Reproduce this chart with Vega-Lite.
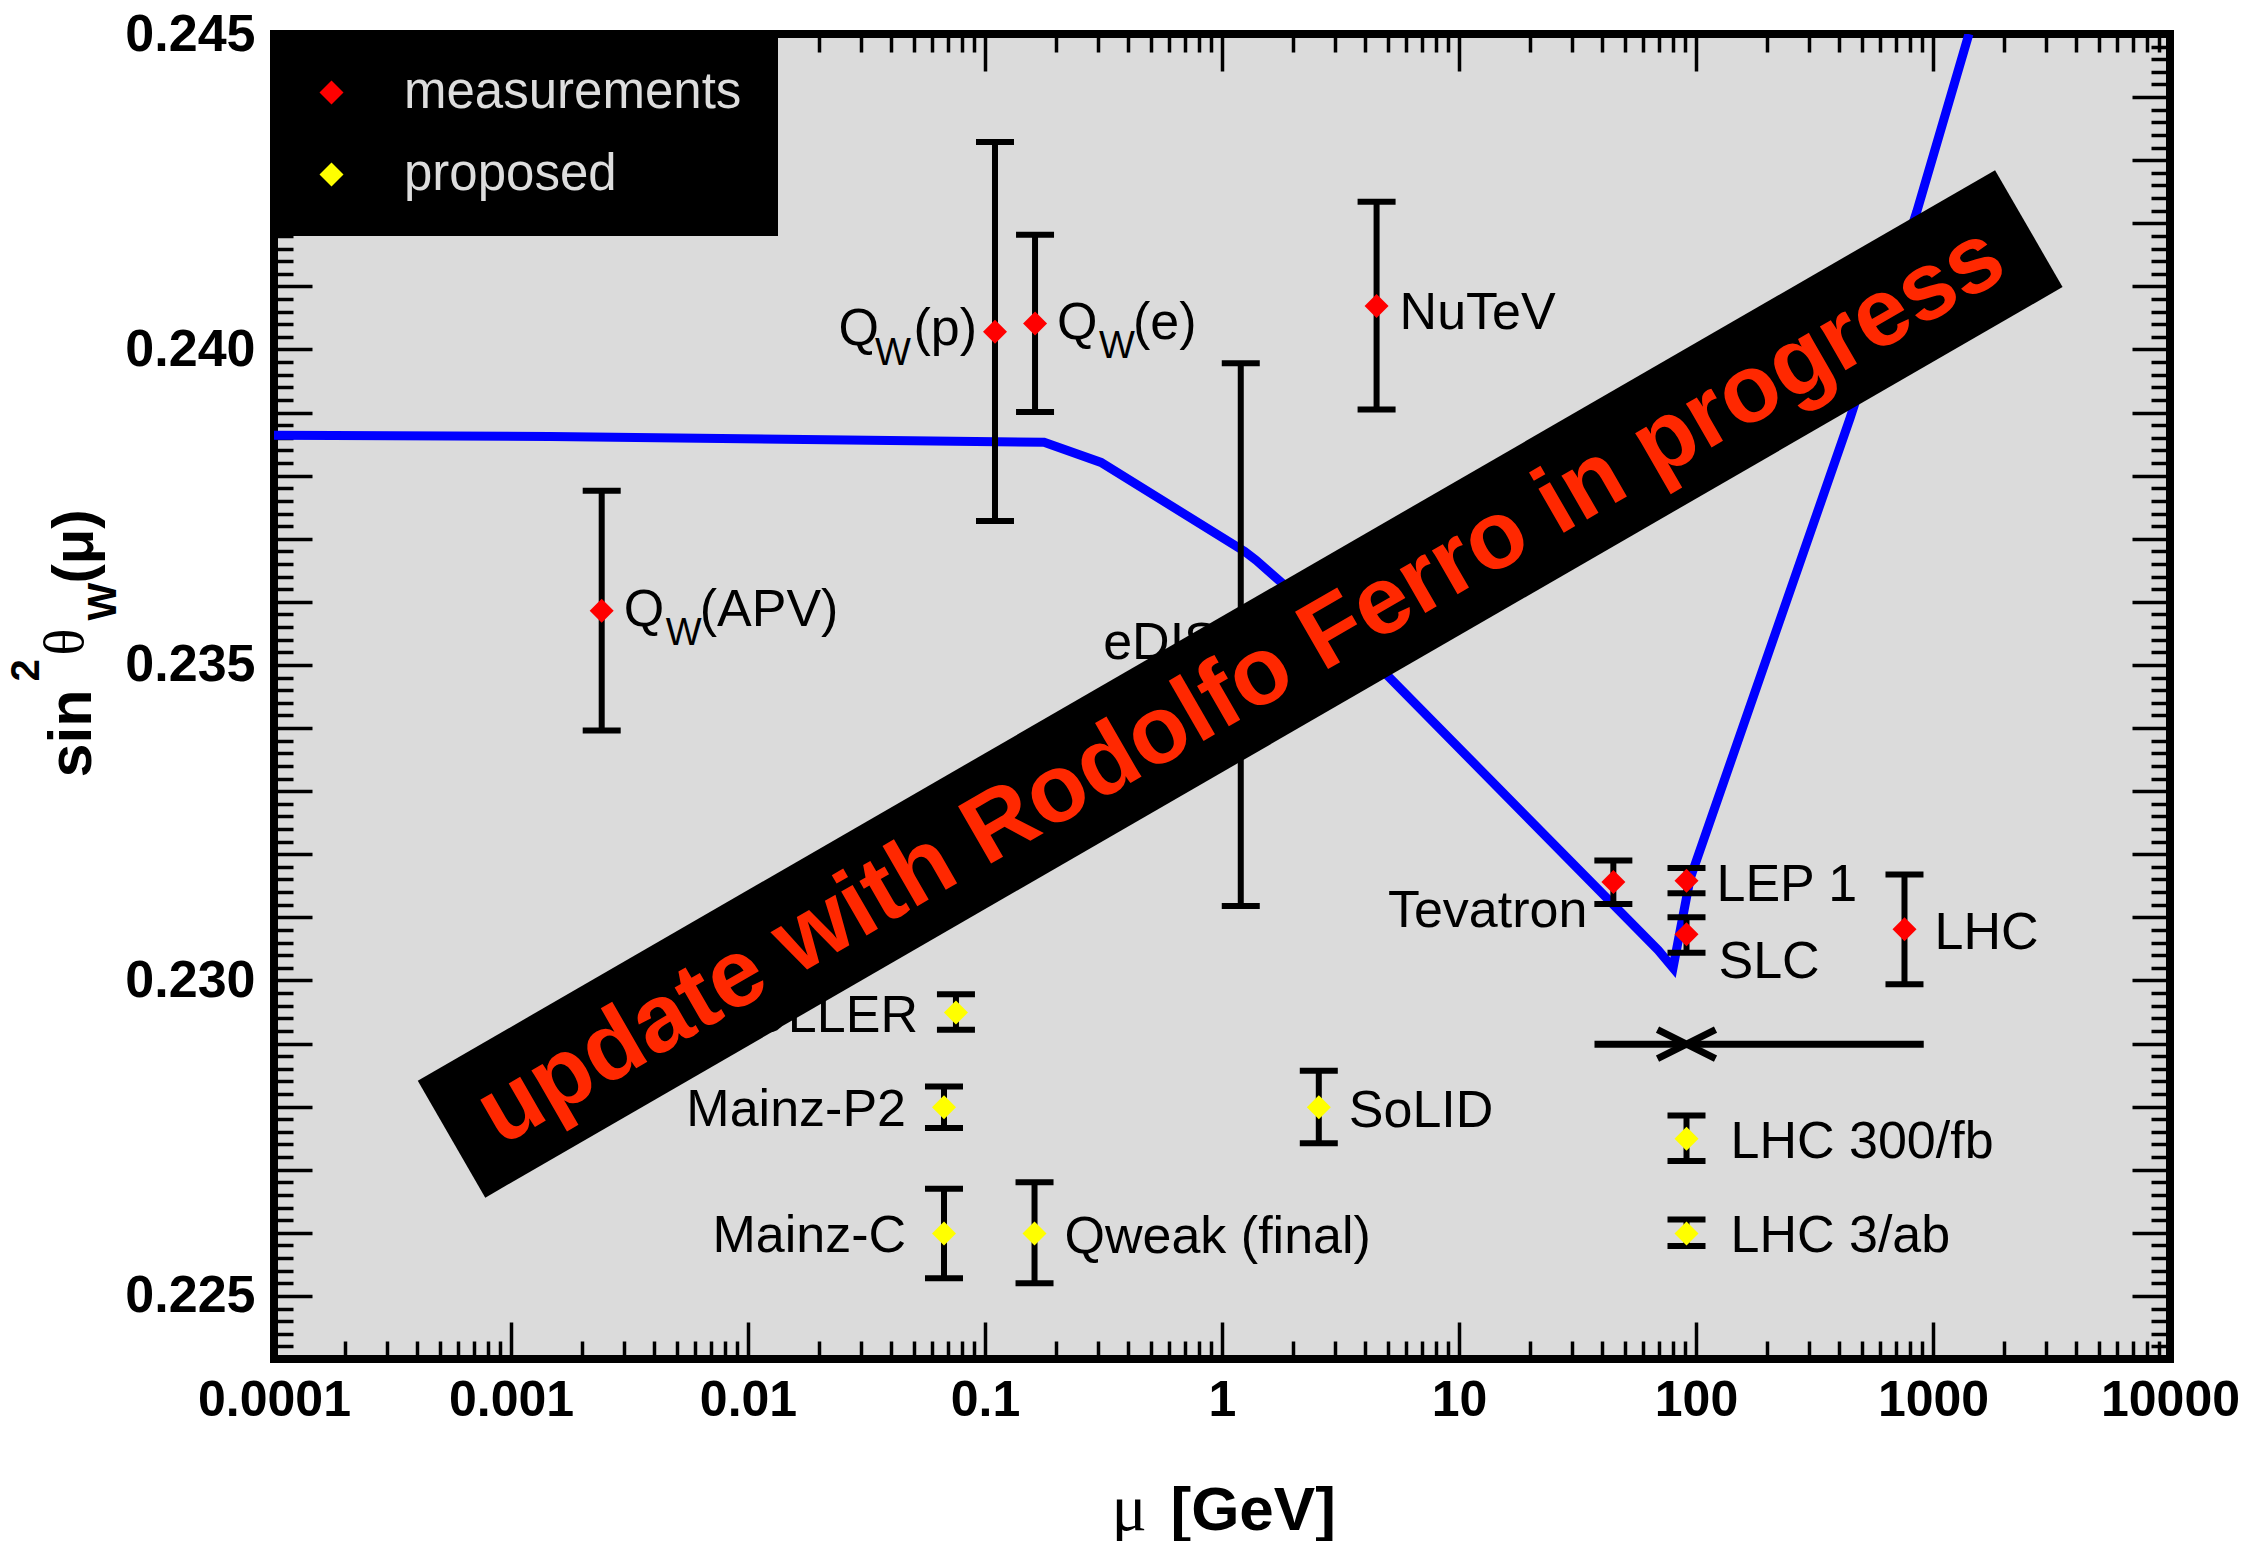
{
  "$schema": "https://vega.github.io/schema/vega-lite/v6.json",
  "width": 1896,
  "height": 1325,
  "autosize": {"type": "none"},
  "padding": {"left": 274, "top": 34, "right": 80, "bottom": 182},
  "background": "white",
  "config": {
    "view": {"fill": "#dbdbdb", "stroke": "black", "strokeWidth": 8},
    "font": "Liberation Sans",
    "axis": {"grid": false, "domain": false, "tickColor": "black", "tickWidth": 3.5, "labelColor": "black", "titleColor": "black", "labelFlush": false, "labelOverlap": false, "labelBound": false, "labelFont": "Liberation Sans", "titleFont": "Liberation Sans"}
  },
  "datasets": {
    "curve": [
      {"mu": 0.0001, "s2w": 0.23864},
      {"mu": 0.00146, "s2w": 0.23862},
      {"mu": 0.1775, "s2w": 0.23853},
      {"mu": 0.3087, "s2w": 0.23821},
      {"mu": 1.246, "s2w": 0.2368},
      {"mu": 1.392, "s2w": 0.23666},
      {"mu": 4.909, "s2w": 0.23486},
      {"mu": 69.2, "s2w": 0.23048},
      {"mu": 80, "s2w": 0.2302},
      {"mu": 94.4, "s2w": 0.23161},
      {"mu": 446.6, "s2w": 0.23891},
      {"mu": 853.5, "s2w": 0.24218},
      {"mu": 1417.6, "s2w": 0.245}
    ],
    "points": [
      {"exp": "Q_W(APV)", "mu": 0.002414, "s2w": 0.23586, "lo": 0.23396, "hi": 0.23776, "type": "measurements"},
      {"exp": "Q_W(p)", "mu": 0.1102, "s2w": 0.24028, "lo": 0.23728, "hi": 0.24329, "type": "measurements"},
      {"exp": "Q_W(e)", "mu": 0.1626, "s2w": 0.24041, "lo": 0.23901, "hi": 0.24182, "type": "measurements"},
      {"exp": "eDIS", "mu": 1.2, "s2w": 0.23548, "lo": 0.23118, "hi": 0.23978, "type": "measurements"},
      {"exp": "NuTeV", "mu": 4.49, "s2w": 0.24069, "lo": 0.23905, "hi": 0.24234, "type": "measurements"},
      {"exp": "Tevatron", "mu": 44.8, "s2w": 0.23156, "lo": 0.23121, "hi": 0.2319, "type": "measurements"},
      {"exp": "LEP 1", "mu": 91.19, "s2w": 0.23158, "lo": 0.23138, "hi": 0.23178, "type": "measurements"},
      {"exp": "SLC", "mu": 91.19, "s2w": 0.23073, "lo": 0.23044, "hi": 0.231, "type": "measurements"},
      {"exp": "LHC", "mu": 758, "s2w": 0.23081, "lo": 0.22994, "hi": 0.23168, "type": "measurements"},
      {"exp": "MOLLER", "mu": 0.07541, "s2w": 0.22949, "lo": 0.22922, "hi": 0.22978, "type": "proposed"},
      {"exp": "Mainz-P2", "mu": 0.06714, "s2w": 0.22799, "lo": 0.22766, "hi": 0.22832, "type": "proposed"},
      {"exp": "SoLID", "mu": 2.561, "s2w": 0.22799, "lo": 0.22742, "hi": 0.22857, "type": "proposed"},
      {"exp": "Mainz-C", "mu": 0.06714, "s2w": 0.22599, "lo": 0.22528, "hi": 0.2267, "type": "proposed"},
      {"exp": "Qweak (final)", "mu": 0.1618, "s2w": 0.22599, "lo": 0.2252, "hi": 0.2268, "type": "proposed"},
      {"exp": "LHC 300/fb", "mu": 91.19, "s2w": 0.22749, "lo": 0.22714, "hi": 0.22786, "type": "proposed"},
      {"exp": "LHC 3/ab", "mu": 91.19, "s2w": 0.22599, "lo": 0.22579, "hi": 0.22621, "type": "proposed"}
    ],
    "labels": [
      {"text": "NuTeV", "mu": 4.49, "s2w": 0.24069, "grp": "R1"},
      {"text": "SoLID", "mu": 2.561, "s2w": 0.22799, "grp": "R2"},
      {"text": "Qweak (final)", "mu": 0.1618, "s2w": 0.22599, "grp": "R2"},
      {"text": "LEP 1", "mu": 91.19, "s2w": 0.23158, "grp": "R2"},
      {"text": "LHC", "mu": 758, "s2w": 0.23081, "grp": "R2"},
      {"text": "SLC", "mu": 91.19, "s2w": 0.23073, "grp": "R3"},
      {"text": "LHC 300/fb", "mu": 91.19, "s2w": 0.22749, "grp": "R4"},
      {"text": "LHC 3/ab", "mu": 91.19, "s2w": 0.22599, "grp": "R4"},
      {"text": "MOLLER", "mu": 0.07541, "s2w": 0.22949, "grp": "L1"},
      {"text": "Mainz-P2", "mu": 0.06714, "s2w": 0.22799, "grp": "L1"},
      {"text": "Mainz-C", "mu": 0.06714, "s2w": 0.22599, "grp": "L1"},
      {"text": "Tevatron", "mu": 44.8, "s2w": 0.23156, "grp": "L2"},
      {"text": "eDIS", "mu": 1.2, "s2w": 0.23548, "grp": "L3"}
    ],
    "qlabels": [
      {"text": "(APV)", "mu": 0.002414, "s2w": 0.23586, "grp": "QR"},
      {"text": "(e)", "mu": 0.1626, "s2w": 0.24041, "grp": "QR"},
      {"text": "(p)", "mu": 0.1102, "s2w": 0.24028, "grp": "QL"}
    ],
    "zline": [{"mu": 37.3, "mu2": 914, "s2w": 0.22899}],
    "zmark": [{"mu": 91.19, "s2w": 0.22899}],
    "banner": [{"mu": 0.0005611, "s2w": 0.227484, "mu2": 2536.6, "s2w2": 0.241916}],
    "bannertext": [{"text": "update with Rodolfo Ferro in progress", "mu": 1.193, "s2w": 0.2347}]
  },
  "resolve": {"axis": {"x": "independent", "y": "independent"}},
  "layer": [
    {
      "data": {"name": "curve"},
      "mark": {"type": "line", "color": "#0000ff", "strokeWidth": 9, "clip": true, "strokeJoin": "miter"},
      "encoding": {
        "x": {"field": "mu", "type": "quantitative", "scale": {"type": "log", "domain": [0.0001, 10000]},
          "axis": {"orient": "bottom", "values": [0.0001, 0.001, 0.01, 0.1, 1, 10, 100, 1000, 10000], "format": "~g", "ticks": false, "tickSize": 0, "labelFontSize": 50, "labelFontWeight": "bold", "labelPadding": 16, "title": "μ", "titleFont": "Liberation Serif", "titleFontSize": 66, "titleFontWeight": "normal", "titleX": 837, "titleY": 170, "titleAlign": "left", "titleBaseline": "alphabetic", "titleAngle": 0}},
        "y": {"field": "s2w", "type": "quantitative", "scale": {"domain": [0.224, 0.245], "zero": false, "nice": false},
          "axis": {"orient": "left", "values": [0.225, 0.23, 0.235, 0.24, 0.245], "format": ".3f", "ticks": false, "tickSize": 0, "labelFontSize": 52, "labelFontWeight": "bold", "labelPadding": 19, "title": "sin", "titleFontSize": 61, "titleFontWeight": "bold", "titleX": -184, "titleY": 743, "titleAngle": 270, "titleAlign": "left", "titleBaseline": "alphabetic"}}
      }
    },
    {
      "data": {"name": "points"},
      "mark": {"type": "rule", "color": "black", "strokeWidth": 6},
      "encoding": {
        "x": {"field": "mu", "type": "quantitative", "scale": {"type": "log", "domain": [0.0001, 10000]},
          "axis": {"orient": "bottom", "values": [0.0001, 0.001, 0.01, 0.1, 1, 10, 100, 1000, 10000], "labels": false, "tickSize": -37, "title": "[GeV]", "titleFontSize": 62, "titleFontWeight": "bold", "titleX": 896, "titleY": 170, "titleAlign": "left", "titleBaseline": "alphabetic", "titleAngle": 0}},
        "y": {"field": "lo", "type": "quantitative", "scale": {"domain": [0.224, 0.245], "zero": false, "nice": false},
          "axis": {"orient": "left", "values": [0.224, 0.225, 0.226, 0.227, 0.228, 0.229, 0.23, 0.231, 0.232, 0.233, 0.234, 0.235, 0.236, 0.237, 0.238, 0.239, 0.24, 0.241, 0.242, 0.243, 0.244, 0.245], "labels": false, "tickSize": -38, "title": "2", "titleFontSize": 40, "titleFontWeight": "bold", "titleX": -236, "titleY": 647, "titleAngle": 270, "titleAlign": "left", "titleBaseline": "alphabetic"}},
        "y2": {"field": "hi"}
      }
    },
    {
      "data": {"name": "points"},
      "mark": {"type": "point", "shape": "M-1,0L1,0", "size": 1444, "filled": false, "color": "black", "strokeWidth": 6, "opacity": 1},
      "encoding": {
        "x": {"field": "mu", "type": "quantitative", "scale": {"type": "log", "domain": [0.0001, 10000]},
          "axis": {"orient": "bottom", "values": [0.0002, 0.0003, 0.0004, 0.0005, 0.0006, 0.0007, 0.0008, 0.0009, 0.002, 0.003, 0.004, 0.005, 0.006, 0.007, 0.008, 0.009, 0.02, 0.03, 0.04, 0.05, 0.06, 0.07, 0.08, 0.09, 0.2, 0.3, 0.4, 0.5, 0.6, 0.7, 0.8, 0.9, 2, 3, 4, 5, 6, 7, 8, 9, 20, 30, 40, 50, 60, 70, 80, 90, 200, 300, 400, 500, 600, 700, 800, 900, 2000, 3000, 4000, 5000, 6000, 7000, 8000, 9000], "labels": false, "tickSize": -18, "title": null}},
        "y": {"field": "hi", "type": "quantitative", "scale": {"domain": [0.224, 0.245], "zero": false, "nice": false},
          "axis": {"orient": "left", "values": [0.2242, 0.2244, 0.2246, 0.2248, 0.2252, 0.2254, 0.2256, 0.2258, 0.2262, 0.2264, 0.2266, 0.2268, 0.2272, 0.2274, 0.2276, 0.2278, 0.2282, 0.2284, 0.2286, 0.2288, 0.2292, 0.2294, 0.2296, 0.2298, 0.2302, 0.2304, 0.2306, 0.2308, 0.2312, 0.2314, 0.2316, 0.2318, 0.2322, 0.2324, 0.2326, 0.2328, 0.2332, 0.2334, 0.2336, 0.2338, 0.2342, 0.2344, 0.2346, 0.2348, 0.2352, 0.2354, 0.2356, 0.2358, 0.2362, 0.2364, 0.2366, 0.2368, 0.2372, 0.2374, 0.2376, 0.2378, 0.2382, 0.2384, 0.2386, 0.2388, 0.2392, 0.2394, 0.2396, 0.2398, 0.2402, 0.2404, 0.2406, 0.2408, 0.2412, 0.2414, 0.2416, 0.2418, 0.2422, 0.2424, 0.2426, 0.2428, 0.2432, 0.2434, 0.2436, 0.2438, 0.2442, 0.2444, 0.2446, 0.2448], "labels": false, "tickSize": -19, "title": "θ", "titleFont": "Liberation Serif", "titleFontSize": 56, "titleFontWeight": "normal", "titleX": -192, "titleY": 621, "titleAngle": 270, "titleAlign": "left", "titleBaseline": "alphabetic"}}
      }
    },
    {
      "data": {"name": "points"},
      "mark": {"type": "point", "shape": "M-1,0L1,0", "size": 1444, "filled": false, "color": "black", "strokeWidth": 6, "opacity": 1},
      "encoding": {
        "x": {"field": "mu", "type": "quantitative", "scale": {"type": "log", "domain": [0.0001, 10000]},
          "axis": {"orient": "top", "values": [0.0001, 0.001, 0.01, 0.1, 1, 10, 100, 1000, 10000], "labels": false, "tickSize": -37, "title": null}},
        "y": {"field": "lo", "type": "quantitative", "scale": {"domain": [0.224, 0.245], "zero": false, "nice": false},
          "axis": {"orient": "left", "ticks": false, "tickSize": 0, "labels": false, "title": "W", "titleFontSize": 40, "titleFontWeight": "bold", "titleX": -159, "titleY": 586, "titleAngle": 270, "titleAlign": "left", "titleBaseline": "alphabetic"}}
      }
    },
    {
      "data": {"name": "points"},
      "mark": {"type": "point", "shape": "diamond", "size": 576, "filled": true, "strokeWidth": 0, "opacity": 1},
      "encoding": {
        "x": {"field": "mu", "type": "quantitative", "scale": {"type": "log", "domain": [0.0001, 10000]},
          "axis": {"orient": "top", "values": [0.0002, 0.0003, 0.0004, 0.0005, 0.0006, 0.0007, 0.0008, 0.0009, 0.002, 0.003, 0.004, 0.005, 0.006, 0.007, 0.008, 0.009, 0.02, 0.03, 0.04, 0.05, 0.06, 0.07, 0.08, 0.09, 0.2, 0.3, 0.4, 0.5, 0.6, 0.7, 0.8, 0.9, 2, 3, 4, 5, 6, 7, 8, 9, 20, 30, 40, 50, 60, 70, 80, 90, 200, 300, 400, 500, 600, 700, 800, 900, 2000, 3000, 4000, 5000, 6000, 7000, 8000, 9000], "labels": false, "tickSize": -18, "title": null}},
        "y": {"field": "s2w", "type": "quantitative", "scale": {"domain": [0.224, 0.245], "zero": false, "nice": false},
          "axis": {"orient": "left", "ticks": false, "tickSize": 0, "labels": false, "title": "(μ)", "titleFontSize": 58, "titleFontWeight": "bold", "titleX": -182, "titleY": 549, "titleAngle": 270, "titleAlign": "left", "titleBaseline": "alphabetic"}},
        "color": {"field": "type", "type": "nominal", "scale": {"domain": ["measurements", "proposed"], "range": ["#ff0000", "#ffff00"]},
          "legend": {"title": null, "orient": "none", "legendX": -4, "legendY": -3, "fillColor": "black", "padding": 36, "symbolType": "diamond", "symbolSize": 576, "symbolOffset": 0, "symbolStrokeWidth": 0, "labelFontSize": 51, "labelFont": "Liberation Sans", "labelColor": "#dddddd", "labelOffset": 47, "rowPadding": 30, "labelLimit": 1000}}
      }
    },
    {
      "data": {"name": "zline"},
      "mark": {"type": "rule", "color": "black", "strokeWidth": 7},
      "encoding": {
        "x": {"field": "mu", "type": "quantitative", "scale": {"type": "log", "domain": [0.0001, 10000]}, "axis": null},
        "x2": {"field": "mu2"},
        "y": {"field": "s2w", "type": "quantitative", "scale": {"domain": [0.224, 0.245], "zero": false, "nice": false},
          "axis": {"orient": "right", "values": [0.224, 0.225, 0.226, 0.227, 0.228, 0.229, 0.23, 0.231, 0.232, 0.233, 0.234, 0.235, 0.236, 0.237, 0.238, 0.239, 0.24, 0.241, 0.242, 0.243, 0.244, 0.245], "labels": false, "tickSize": -38, "title": null}}
      }
    },
    {
      "data": {"name": "zmark"},
      "mark": {"type": "point", "shape": "M-1,-0.5L1,0.5M-1,0.5L1,-0.5", "size": 3364, "filled": false, "color": "black", "strokeWidth": 7, "opacity": 1},
      "encoding": {
        "x": {"field": "mu", "type": "quantitative", "scale": {"type": "log", "domain": [0.0001, 10000]}, "axis": null},
        "y": {"field": "s2w", "type": "quantitative", "scale": {"domain": [0.224, 0.245], "zero": false, "nice": false},
          "axis": {"orient": "right", "values": [0.2242, 0.2244, 0.2246, 0.2248, 0.2252, 0.2254, 0.2256, 0.2258, 0.2262, 0.2264, 0.2266, 0.2268, 0.2272, 0.2274, 0.2276, 0.2278, 0.2282, 0.2284, 0.2286, 0.2288, 0.2292, 0.2294, 0.2296, 0.2298, 0.2302, 0.2304, 0.2306, 0.2308, 0.2312, 0.2314, 0.2316, 0.2318, 0.2322, 0.2324, 0.2326, 0.2328, 0.2332, 0.2334, 0.2336, 0.2338, 0.2342, 0.2344, 0.2346, 0.2348, 0.2352, 0.2354, 0.2356, 0.2358, 0.2362, 0.2364, 0.2366, 0.2368, 0.2372, 0.2374, 0.2376, 0.2378, 0.2382, 0.2384, 0.2386, 0.2388, 0.2392, 0.2394, 0.2396, 0.2398, 0.2402, 0.2404, 0.2406, 0.2408, 0.2412, 0.2414, 0.2416, 0.2418, 0.2422, 0.2424, 0.2426, 0.2428, 0.2432, 0.2434, 0.2436, 0.2438, 0.2442, 0.2444, 0.2446, 0.2448], "labels": false, "tickSize": -19, "title": null}}
      }
    },
    {
      "data": {"name": "labels"},
      "transform": [{"filter": "datum.grp === 'R1'"}],
      "mark": {"type": "text", "font": "Liberation Sans", "fontSize": 52, "color": "black", "align": "left", "baseline": "middle", "dx": 23, "dy": 7},
      "encoding": {
        "x": {"field": "mu", "type": "quantitative", "scale": {"type": "log", "domain": [0.0001, 10000]}, "axis": null},
        "y": {"field": "s2w", "type": "quantitative", "scale": {"domain": [0.224, 0.245], "zero": false, "nice": false}, "axis": null},
        "text": {"field": "text"}
      }
    },
    {
      "data": {"name": "labels"},
      "transform": [{"filter": "datum.grp === 'R2'"}],
      "mark": {"type": "text", "font": "Liberation Sans", "fontSize": 52, "color": "black", "align": "left", "baseline": "middle", "dx": 30, "dy": 4},
      "encoding": {
        "x": {"field": "mu", "type": "quantitative", "scale": {"type": "log", "domain": [0.0001, 10000]}, "axis": null},
        "y": {"field": "s2w", "type": "quantitative", "scale": {"domain": [0.224, 0.245], "zero": false, "nice": false}, "axis": null},
        "text": {"field": "text"}
      }
    },
    {
      "data": {"name": "labels"},
      "transform": [{"filter": "datum.grp === 'R3'"}],
      "mark": {"type": "text", "font": "Liberation Sans", "fontSize": 52, "color": "black", "align": "left", "baseline": "middle", "dx": 32, "dy": 28},
      "encoding": {
        "x": {"field": "mu", "type": "quantitative", "scale": {"type": "log", "domain": [0.0001, 10000]}, "axis": null},
        "y": {"field": "s2w", "type": "quantitative", "scale": {"domain": [0.224, 0.245], "zero": false, "nice": false}, "axis": null},
        "text": {"field": "text"}
      }
    },
    {
      "data": {"name": "labels"},
      "transform": [{"filter": "datum.grp === 'R4'"}],
      "mark": {"type": "text", "font": "Liberation Sans", "fontSize": 52, "color": "black", "align": "left", "baseline": "middle", "dx": 44, "dy": 3},
      "encoding": {
        "x": {"field": "mu", "type": "quantitative", "scale": {"type": "log", "domain": [0.0001, 10000]}, "axis": null},
        "y": {"field": "s2w", "type": "quantitative", "scale": {"domain": [0.224, 0.245], "zero": false, "nice": false}, "axis": null},
        "text": {"field": "text"}
      }
    },
    {
      "data": {"name": "labels"},
      "transform": [{"filter": "datum.grp === 'L1'"}],
      "mark": {"type": "text", "font": "Liberation Sans", "fontSize": 52, "color": "black", "align": "right", "baseline": "middle", "dx": -38, "dy": 3},
      "encoding": {
        "x": {"field": "mu", "type": "quantitative", "scale": {"type": "log", "domain": [0.0001, 10000]}, "axis": null},
        "y": {"field": "s2w", "type": "quantitative", "scale": {"domain": [0.224, 0.245], "zero": false, "nice": false}, "axis": null},
        "text": {"field": "text"}
      }
    },
    {
      "data": {"name": "labels"},
      "transform": [{"filter": "datum.grp === 'L2'"}],
      "mark": {"type": "text", "font": "Liberation Sans", "fontSize": 52, "color": "black", "align": "right", "baseline": "middle", "dx": -26, "dy": 29},
      "encoding": {
        "x": {"field": "mu", "type": "quantitative", "scale": {"type": "log", "domain": [0.0001, 10000]}, "axis": null},
        "y": {"field": "s2w", "type": "quantitative", "scale": {"domain": [0.224, 0.245], "zero": false, "nice": false}, "axis": null},
        "text": {"field": "text"}
      }
    },
    {
      "data": {"name": "labels"},
      "transform": [{"filter": "datum.grp === 'L3'"}],
      "mark": {"type": "text", "font": "Liberation Sans", "fontSize": 52, "color": "black", "align": "right", "baseline": "middle", "dx": -22, "dy": 8},
      "encoding": {
        "x": {"field": "mu", "type": "quantitative", "scale": {"type": "log", "domain": [0.0001, 10000]}, "axis": null},
        "y": {"field": "s2w", "type": "quantitative", "scale": {"domain": [0.224, 0.245], "zero": false, "nice": false}, "axis": null},
        "text": {"field": "text"}
      }
    },
    {
      "data": {"name": "qlabels"},
      "transform": [{"filter": "datum.grp === 'QR'"}],
      "mark": {"type": "text", "font": "Liberation Sans", "fontSize": 52, "color": "black", "align": "left", "baseline": "middle", "dx": 22, "dy": -1},
      "encoding": {
        "x": {"field": "mu", "type": "quantitative", "scale": {"type": "log", "domain": [0.0001, 10000]}, "axis": null},
        "y": {"field": "s2w", "type": "quantitative", "scale": {"domain": [0.224, 0.245], "zero": false, "nice": false}, "axis": null},
        "text": {"value": "Q"}
      }
    },
    {
      "data": {"name": "qlabels"},
      "transform": [{"filter": "datum.grp === 'QR'"}],
      "mark": {"type": "text", "font": "Liberation Sans", "fontSize": 38, "color": "black", "align": "left", "baseline": "middle", "dx": 64, "dy": 23},
      "encoding": {
        "x": {"field": "mu", "type": "quantitative", "scale": {"type": "log", "domain": [0.0001, 10000]}, "axis": null},
        "y": {"field": "s2w", "type": "quantitative", "scale": {"domain": [0.224, 0.245], "zero": false, "nice": false}, "axis": null},
        "text": {"value": "W"}
      }
    },
    {
      "data": {"name": "qlabels"},
      "transform": [{"filter": "datum.grp === 'QR'"}],
      "mark": {"type": "text", "font": "Liberation Sans", "fontSize": 52, "color": "black", "align": "left", "baseline": "middle", "dx": 98, "dy": -1},
      "encoding": {
        "x": {"field": "mu", "type": "quantitative", "scale": {"type": "log", "domain": [0.0001, 10000]}, "axis": null},
        "y": {"field": "s2w", "type": "quantitative", "scale": {"domain": [0.224, 0.245], "zero": false, "nice": false}, "axis": null},
        "text": {"field": "text"}
      }
    },
    {
      "data": {"name": "qlabels"},
      "transform": [{"filter": "datum.grp === 'QL'"}],
      "mark": {"type": "text", "font": "Liberation Sans", "fontSize": 52, "color": "black", "align": "right", "baseline": "middle", "dx": -116, "dy": -3},
      "encoding": {
        "x": {"field": "mu", "type": "quantitative", "scale": {"type": "log", "domain": [0.0001, 10000]}, "axis": null},
        "y": {"field": "s2w", "type": "quantitative", "scale": {"domain": [0.224, 0.245], "zero": false, "nice": false}, "axis": null},
        "text": {"value": "Q"}
      }
    },
    {
      "data": {"name": "qlabels"},
      "transform": [{"filter": "datum.grp === 'QL'"}],
      "mark": {"type": "text", "font": "Liberation Sans", "fontSize": 38, "color": "black", "align": "right", "baseline": "middle", "dx": -84, "dy": 22},
      "encoding": {
        "x": {"field": "mu", "type": "quantitative", "scale": {"type": "log", "domain": [0.0001, 10000]}, "axis": null},
        "y": {"field": "s2w", "type": "quantitative", "scale": {"domain": [0.224, 0.245], "zero": false, "nice": false}, "axis": null},
        "text": {"value": "W"}
      }
    },
    {
      "data": {"name": "qlabels"},
      "transform": [{"filter": "datum.grp === 'QL'"}],
      "mark": {"type": "text", "font": "Liberation Sans", "fontSize": 52, "color": "black", "align": "right", "baseline": "middle", "dx": -18, "dy": -3},
      "encoding": {
        "x": {"field": "mu", "type": "quantitative", "scale": {"type": "log", "domain": [0.0001, 10000]}, "axis": null},
        "y": {"field": "s2w", "type": "quantitative", "scale": {"domain": [0.224, 0.245], "zero": false, "nice": false}, "axis": null},
        "text": {"field": "text"}
      }
    },
    {
      "data": {"name": "banner"},
      "mark": {"type": "rule", "color": "black", "strokeWidth": 135, "strokeCap": "butt"},
      "encoding": {
        "x": {"field": "mu", "type": "quantitative", "scale": {"type": "log", "domain": [0.0001, 10000]}, "axis": null},
        "x2": {"field": "mu2"},
        "y": {"field": "s2w", "type": "quantitative", "scale": {"domain": [0.224, 0.245], "zero": false, "nice": false}, "axis": null},
        "y2": {"field": "s2w2"}
      }
    },
    {
      "data": {"name": "bannertext"},
      "mark": {"type": "text", "font": "Liberation Sans", "fontWeight": "bold", "fontSize": 96, "color": "#ff2800", "align": "center", "baseline": "middle", "angle": 330, "dy": 2},
      "encoding": {
        "x": {"field": "mu", "type": "quantitative", "scale": {"type": "log", "domain": [0.0001, 10000]}, "axis": null},
        "y": {"field": "s2w", "type": "quantitative", "scale": {"domain": [0.224, 0.245], "zero": false, "nice": false}, "axis": null},
        "text": {"field": "text"}
      }
    }
  ]
}
